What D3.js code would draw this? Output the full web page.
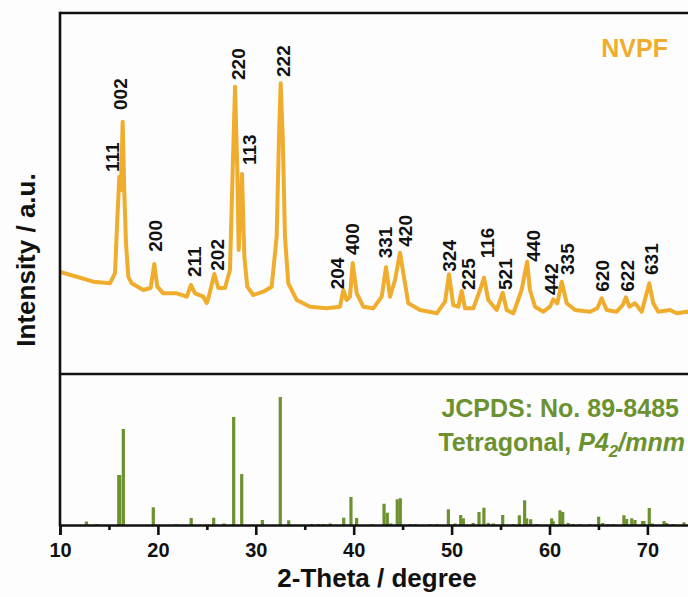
<!DOCTYPE html>
<html>
<head>
<meta charset="utf-8">
<script src="https://cdn.jsdelivr.net/npm/d3@7"></script>
<style>
  html, body { margin: 0; padding: 0; background: #fdfdfd; }
  svg { display: block; font-family: Arial, "Liberation Sans", sans-serif; }
</style>
</head>
<body>
<svg id="chart" width="688" height="597"></svg>
<script>
// Measured NVPF pattern: [2-theta (deg), intensity (a.u.)]
const nvpfPattern = [
  [10.00, 1020], [11.71, 973], [13.40, 923], [15.11, 907], [15.62, 1010],
  [15.85, 1540], [16.06, 1973], [16.23, 1840], [16.40, 2523], [16.57, 1810],
  [16.74, 1310], [16.98, 973], [17.32, 907], [18.51, 840], [19.26, 860],
  [19.63, 1100], [19.94, 873], [20.55, 807], [21.92, 807], [22.94, 773],
  [23.38, 890], [23.79, 807], [24.64, 773], [24.98, 710], [25.22, 780],
  [25.76, 1000], [26.17, 860], [26.85, 860], [27.36, 1040], [27.64, 2040],
  [27.88, 2873], [28.11, 2040], [28.25, 1240], [28.59, 2000], [28.83, 1173],
  [29.13, 873], [29.74, 790], [30.77, 823], [31.62, 873], [32.13, 1373],
  [32.37, 2373], [32.54, 2907], [32.75, 2373], [32.98, 1373], [33.32, 907],
  [34.18, 740], [35.54, 673], [37.24, 657], [38.60, 673], [38.94, 840],
  [39.28, 740], [39.62, 773], [39.90, 1110], [40.31, 807], [40.98, 673],
  [42.00, 657], [42.86, 773], [43.30, 1067], [43.71, 773], [44.22, 940],
  [44.73, 1213], [45.07, 1007], [45.58, 707], [46.77, 640], [48.48, 607],
  [49.33, 723], [49.73, 997], [50.17, 690], [50.68, 673], [51.03, 830],
  [51.37, 657], [52.22, 657], [52.90, 840], [53.31, 963], [53.75, 740],
  [54.61, 640], [55.22, 813], [55.63, 640], [56.30, 607], [56.65, 700],
  [57.15, 840], [57.72, 1123], [58.00, 840], [58.52, 673], [59.37, 623],
  [60.05, 673], [60.39, 747], [60.80, 707], [61.25, 923], [61.76, 707],
  [62.61, 640], [64.14, 623], [64.88, 657], [65.33, 757], [65.84, 640],
  [66.86, 623], [67.48, 690], [67.81, 767], [68.15, 673], [68.73, 707],
  [69.42, 623], [70.19, 907], [70.60, 707], [71.11, 623], [72.31, 640],
  [72.99, 607], [74.01, 623], [74.90, 590]
];

// Miller indices shown above the peaks: [label, 2-theta at label centre, intensity at label foot]
const peakLabels = [
  ["111", 15.31, 2020], ["002", 16.13, 2640], ["200", 19.73, 1223],
  ["211", 23.72, 970], ["202", 26.04, 1033], ["220", 28.18, 2940],
  ["113", 29.36, 2090], ["222", 32.83, 2970], ["204", 38.26, 847],
  ["400", 39.83, 1190], ["331", 43.20, 1157], ["420", 45.27, 1273],
  ["324", 49.73, 1023], ["225", 51.68, 840], ["116", 53.67, 1157],
  ["521", 55.49, 840], ["440", 58.35, 1123], ["442", 60.18, 790],
  ["335", 61.79, 990], ["620", 65.36, 823], ["622", 67.92, 823],
  ["631", 70.37, 990]
];

// Reference card JCPDS 89-8485: [2-theta (deg), relative intensity (%)]
const refAngles = [
  12.70, 13.75, 16.00, 16.10, 16.47, 19.53, 21.85, 23.40, 25.70, 26.75,
  27.74, 28.56, 30.67, 32.50, 33.36, 35.70, 36.40, 36.90, 37.60, 38.98,
  39.72, 40.30, 41.84, 43.10, 43.43, 43.80, 44.45, 44.76, 45.75, 46.30,
  47.80, 48.50, 49.67, 50.35, 50.93, 51.20, 52.20, 52.80, 53.30, 53.75,
  54.26, 55.22, 56.30, 56.92, 57.46, 57.67, 58.08, 58.70, 60.22, 60.38,
  61.07, 61.35, 61.90, 62.40, 63.10, 64.10, 65.02, 65.43, 66.00, 66.50,
  67.60, 67.88, 68.40, 68.73, 69.50, 69.65, 70.19, 70.50, 71.70, 71.97,
  72.60, 73.74
];
const refIntensities = [
  2.7, 0.8, 39, 39, 75, 13.8, 0.8, 5.5, 5.7, 1.2,
  84.4, 39.8, 3.9, 100, 3.7, 0.8, 0.8, 0.8, 1.2, 5.7,
  21.9, 5.5, 0.8, 16.6, 9.6, 1.2, 20.1, 20.9, 0.8, 0.8,
  0.8, 0.8, 12.3, 1.2, 7.8, 5.2, 1.6, 10.2, 13.5, 1.6,
  1.2, 7.8, 0.8, 7.6, 19.3, 5.2, 4.5, 0.8, 5.2, 3.1,
  11.5, 10.2, 1.6, 0.8, 0.8, 0.8, 6.5, 1.6, 0.8, 0.8,
  7.6, 4.7, 5.2, 3.9, 3.1, 3.1, 13.3, 1.2, 3.1, 1.6,
  0.8, 2.1
];

const xMajorTicks = [10, 20, 30, 40, 50, 60, 70];
const xMinorTicks = [15, 25, 35, 45, 55, 65, 75];

const sampleName = "NVPF";
const cardLine1 = "JCPDS: No. 89-8485";
const xTitle = "2-Theta / degree";
const yTitle = "Intensity / a.u.";

const orange = "#f0ac2c";
const green = "#6c9230";

const svg = d3.select("#chart");
const padLeft = 60, padTop = 13, midY = 374, baseY = 525;

const x = d3.scaleLinear().domain([10, 80]).range([padLeft, padLeft + 70 * 9.79]);
const yTop = d3.scaleLinear().domain([0, 3600]).range([midY, padTop + 1]);
const yBot = d3.scaleLinear().domain([0, 100]).range([baseY, baseY - 128]);

// clip to the upper panel
svg.append("clipPath").attr("id", "topClip")
  .append("rect").attr("x", padLeft).attr("y", padTop).attr("width", 700).attr("height", midY - padTop);

// XRD curve
const line = d3.line().x(d => x(d[0])).y(d => yTop(d[1]));
svg.append("path")
  .datum(nvpfPattern)
  .attr("clip-path", "url(#topClip)")
  .attr("d", line)
  .attr("fill", "none")
  .attr("stroke", orange)
  .attr("stroke-width", 4)
  .attr("stroke-linejoin", "round");

// hkl labels
svg.append("g").selectAll("text")
  .data(peakLabels)
  .join("text")
  .attr("transform", d => `translate(${x(d[1])},${yTop(d[2])}) rotate(-90)`)
  .attr("dy", "0.36em")
  .attr("text-anchor", "start")
  .attr("font-size", 19)
  .attr("font-weight", "bold")
  .attr("fill", "#111")
  .text(d => d[0]);

// reference sticks
const sticks = d3.zip(refAngles, refIntensities);
svg.append("g").selectAll("line")
  .data(sticks)
  .join("line")
  .attr("x1", d => x(d[0])).attr("x2", d => x(d[0]))
  .attr("y1", yBot(0)).attr("y2", d => yBot(d[1]))
  .attr("stroke", green)
  .attr("stroke-width", 3.2);

// frame
const frame = svg.append("g").attr("stroke", "#111").attr("stroke-width", 2.6).attr("fill", "none");
frame.append("line").attr("x1", padLeft).attr("x2", x(80)).attr("y1", padTop).attr("y2", padTop);
frame.append("line").attr("x1", padLeft).attr("x2", x(80)).attr("y1", midY).attr("y2", midY);
frame.append("line").attr("x1", padLeft).attr("x2", padLeft).attr("y1", padTop - 1.3).attr("y2", baseY + 1.3);

// bottom axis
const axisMajor = d3.axisBottom(x).tickValues(xMajorTicks).tickSize(10).tickPadding(8).tickFormat(d3.format("d"));
const gx = svg.append("g").attr("transform", `translate(0,${baseY})`).call(axisMajor);
gx.select(".domain").attr("stroke", "#111").attr("stroke-width", 2.6);
gx.selectAll(".tick line").attr("stroke", "#111").attr("stroke-width", 2.6);
gx.selectAll(".tick text")
  .attr("font-size", 20).attr("font-weight", "bold").attr("fill", "#111")
  .attr("font-family", "Arial, 'Liberation Sans', sans-serif");

const axisMinor = d3.axisBottom(x).tickValues(xMinorTicks).tickSize(5).tickFormat("");
const gm = svg.append("g").attr("transform", `translate(0,${baseY})`).call(axisMinor);
gm.select(".domain").remove();
gm.selectAll(".tick line").attr("stroke", "#111").attr("stroke-width", 2.6);

// axis titles
svg.append("text")
  .attr("x", 377).attr("y", 587)
  .attr("text-anchor", "middle")
  .attr("font-size", 26).attr("font-weight", "bold").attr("fill", "#111")
  .text(xTitle);

svg.append("text")
  .attr("transform", "translate(35,260) rotate(-90)")
  .attr("text-anchor", "middle")
  .attr("font-size", 26).attr("font-weight", "bold").attr("fill", "#111")
  .text(yTitle);

// legends
svg.append("text")
  .attr("x", 668).attr("y", 57)
  .attr("text-anchor", "end")
  .attr("font-size", 25).attr("font-weight", "bold").attr("fill", orange)
  .text(sampleName);

svg.append("text")
  .attr("x", 679).attr("y", 417)
  .attr("text-anchor", "end")
  .attr("font-size", 25).attr("font-weight", "bold").attr("fill", green)
  .text(cardLine1);

const t2 = svg.append("text")
  .attr("x", 685).attr("y", 451)
  .attr("text-anchor", "end")
  .attr("font-size", 25).attr("font-weight", "bold").attr("fill", green);
t2.append("tspan").text("Tetragonal, ");
t2.append("tspan").attr("font-style", "italic").text("P4");
t2.append("tspan").attr("font-style", "italic").attr("font-size", 17).attr("dy", 6).text("2");
t2.append("tspan").attr("font-style", "italic").attr("dy", -6).text("/mnm");
</script>
</body>
</html>
